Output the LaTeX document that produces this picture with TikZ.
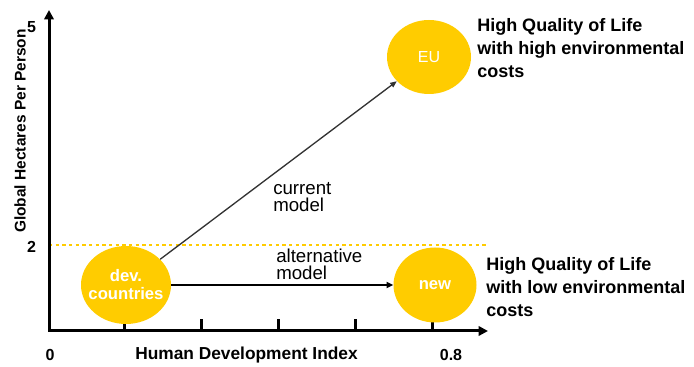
\documentclass[tikz,border=0pt]{standalone}
\usepackage{fontspec}
\setmainfont{Liberation Sans}
\usetikzlibrary{arrows.meta,shapes.geometric}
\definecolor{gold}{RGB}{255,204,0}
\definecolor{darkline}{RGB}{51,51,51}

\begin{document}
\begin{tikzpicture}[
  x=0.75pt,y=-0.75pt,
  region/.style={ellipse, fill=gold, inner sep=0pt},
  regiontext/.style={text=white, align=center, inner sep=0pt,
    font=\bfseries\fontsize{12.5}{13.5}\selectfont},
  axislabel/.style={font=\bfseries\fontsize{13}{15}\selectfont, inner sep=0pt},
  ticklabel/.style={font=\bfseries\fontsize{12}{14}\selectfont, inner sep=0pt},
  note/.style={anchor=west, align=left, inner sep=0pt,
    font=\bfseries\fontsize{13.5}{17.25}\selectfont},
  model/.style={anchor=west, align=left, inner sep=0pt,
    font=\fontsize{14}{12.75}\selectfont},
  axis/.style={line width=2.25pt,
    {Triangle[length=7pt,width=7pt]}-{Triangle[length=7pt,width=7pt]}},
]
\useasboundingbox (0,0) rectangle (694,367);
\coordinate (origin) at (49,331);
\coordinate (xtip) at (488,331);
\coordinate (ytip) at (49,10);
\coordinate (limleft) at (49,245);
\coordinate (limright) at (487,245);

\draw[gold, line width=2pt, dash pattern=on 2.5pt off 2.5pt] (limleft) -- (limright);
\draw[axis] (ytip) -- (origin) -- (xtip);
\foreach \tx in {124,201,278,355,432}
  \draw[line width=2.25pt] (\tx,331) -- (\tx,319);

\node[region, minimum width=67.5pt, minimum height=58.5pt,
  label={[regiontext]center:dev.\\countries}] (dev) at (126,285) {};
\node[region, minimum width=63pt, minimum height=55.5pt,
  label={[regiontext, font=\fontsize{12}{14}\selectfont]center:EU}] (eu) at (429,57) {};
\node[region, minimum width=62.25pt, minimum height=56.25pt,
  label={[regiontext]center:new}] (new) at (435,285) {};

\draw[darkline, line width=1pt, -{Triangle[length=5pt,width=4pt]}] (dev) -- (eu);
\draw[line width=1.5pt, -{Triangle[length=5pt,width=4.5pt]}] (dev) -- (new);

\node[model] (current) at (273,197) {current\\model};
\node[model] (alternative) at (276,264) {alternative\\model};
\node[note] (high) at (477,48) {High Quality of Life\\with high environmental\\costs};
\node[note] (low) at (486,287) {High Quality of Life\\with low environmental\\costs};

\node[axislabel] (hdi) at (246.5,355) {Human Development Index};
\node[axislabel, font=\bfseries\fontsize{11.6}{14}\selectfont, rotate=90] (gha) at (20,131) {Global Hectares Per Person};
\node[ticklabel] (yfive) at (31.5,27) {5};
\node[ticklabel] (ytwo) at (31.5,247) {2};
\node[ticklabel] (xzero) at (50,355) {0};
\node[ticklabel] (xmax) at (451,355) {0.8};
\end{tikzpicture}
\end{document}
